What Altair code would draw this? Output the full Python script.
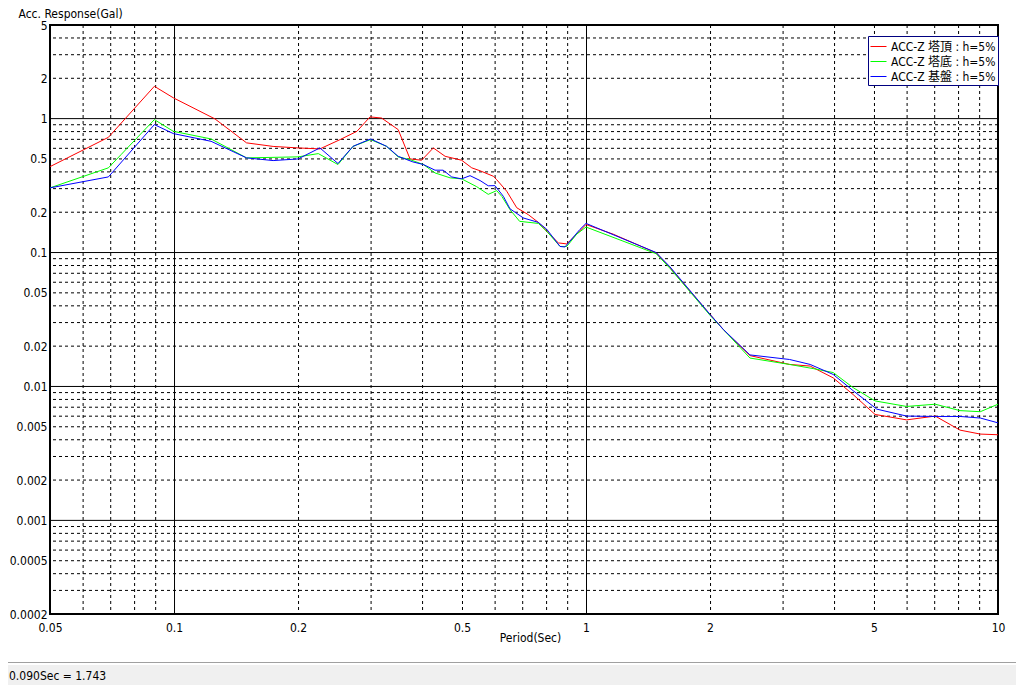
import altair as alt
import pandas as pd

FONT = "Liberation Sans Narrow, DejaVu Sans Condensed, Arial Narrow, Noto Sans CJK JP, sans-serif"

series_names = ["ACC-Z 塔頂 : h=5%", "ACC-Z 塔底 : h=5%", "ACC-Z 基盤 : h=5%"]
series_colors = ["#ff0000", "#00ff00", "#0000ff"]

red_T = [0.05, 0.0693, 0.0896, 0.0996, 0.1257, 0.150, 0.174, 0.2, 0.226, 0.253, 0.278, 0.299,
         0.319, 0.35, 0.374, 0.399, 0.426, 0.455, 0.499, 0.528, 0.553, 0.596, 0.607, 0.642, 0.679,
         0.724, 0.766, 0.803, 0.857, 0.898, 0.949, 1.0, 1.165, 1.48, 1.6, 2.0, 2.155, 2.5, 3.12,
         3.5, 3.98, 4.45, 5.03, 6.0, 7.04, 8.09, 9.06, 10.0]
red_V = [0.438, 0.725, 1.743, 1.43, 0.995, 0.659, 0.62, 0.604, 0.594, 0.697, 0.804, 1.03,
         1.01, 0.828, 0.5, 0.489, 0.604, 0.523, 0.489, 0.429, 0.408, 0.371, 0.35, 0.287, 0.216,
         0.192, 0.168, 0.144, 0.118, 0.116, 0.137, 0.162, 0.137, 0.0994, 0.077, 0.0345, 0.0266,
         0.0170, 0.0146, 0.0142, 0.0116, 0.0087, 0.00618, 0.00563, 0.00601, 0.00472, 0.00441,
         0.00436]

green_T = [0.05, 0.0693, 0.0744, 0.0896, 0.0996, 0.123, 0.150, 0.2, 0.224, 0.25, 0.272, 0.3,
           0.328, 0.35, 0.374, 0.403, 0.43, 0.468, 0.499, 0.543, 0.579, 0.607, 0.625, 0.654,
           0.69, 0.766, 0.803, 0.865, 0.898, 0.949, 1.0, 1.48, 1.6, 2.0, 2.155, 2.5, 3.12, 3.56,
           3.98, 4.45, 5.03, 6.0, 7.04, 8.09, 9.06, 10.0]
green_V = [0.304, 0.429, 0.539, 0.983, 0.804, 0.705, 0.509, 0.518, 0.548, 0.454, 0.621, 0.697,
           0.621, 0.518, 0.494, 0.454, 0.393, 0.361, 0.355, 0.31, 0.272, 0.29, 0.262, 0.209,
           0.171, 0.165, 0.144, 0.111, 0.111, 0.137, 0.155, 0.098, 0.076, 0.034, 0.0266, 0.0163,
           0.0146, 0.0136, 0.0127, 0.0098, 0.0078, 0.00709, 0.00737, 0.0066, 0.00648, 0.00737]

blue_T = [0.05, 0.0693, 0.0896, 0.0996, 0.123, 0.150, 0.174, 0.2, 0.226, 0.25, 0.272, 0.3,
          0.328, 0.35, 0.38, 0.403, 0.43, 0.45, 0.472, 0.499, 0.523, 0.553, 0.579, 0.601, 0.63,
          0.654, 0.705, 0.766, 0.803, 0.865, 0.889, 0.967, 1.0, 1.48, 1.6, 2.0, 2.155, 2.5, 3.12,
          3.5, 3.98, 4.45, 5.08, 6.0, 7.04, 8.09, 9.06, 10.0]
blue_V = [0.304, 0.367, 0.902, 0.773, 0.677, 0.509, 0.486, 0.5, 0.604, 0.462, 0.621, 0.705,
          0.621, 0.523, 0.475, 0.454, 0.412, 0.412, 0.367, 0.355, 0.375, 0.345, 0.315, 0.316,
          0.263, 0.212, 0.181, 0.168, 0.149, 0.111, 0.11, 0.149, 0.165, 0.1, 0.078, 0.0345,
          0.0266, 0.0172, 0.0159, 0.0146, 0.0123, 0.0093, 0.00677, 0.00601, 0.00597, 0.00597,
          0.00581, 0.00535]

x_ticks = [0.05, 0.1, 0.2, 0.5, 1, 2, 5, 10]
y_ticks = [0.0002, 0.0005, 0.001, 0.002, 0.005, 0.01, 0.02, 0.05, 0.1, 0.2, 0.5, 1, 2, 5]
x_grid_major = [0.1, 1]
x_grid_minor = [0.06, 0.07, 0.08, 0.09, 0.2, 0.3, 0.4, 0.5, 0.6, 0.7, 0.8, 0.9,
                2, 3, 4, 5, 6, 7, 8, 9]
y_grid_major = [0.001, 0.01, 0.1, 1]
y_grid_minor = [0.0003, 0.0004, 0.0005, 0.0006, 0.0007, 0.0008, 0.0009,
                0.002, 0.003, 0.004, 0.005, 0.006, 0.007, 0.008, 0.009,
                0.02, 0.03, 0.04, 0.05, 0.06, 0.07, 0.08, 0.09,
                0.2, 0.3, 0.4, 0.5, 0.6, 0.7, 0.8, 0.9,
                2, 3, 4]
status_text = "0.090Sec = 1.743"

rows = []
for name, Ts, Vs in zip(series_names, [red_T, green_T, blue_T], [red_V, green_V, blue_V]):
    for i, (t, v) in enumerate(zip(Ts, Vs)):
        rows.append({"series": name, "T": t, "V": v, "i": i})
df = pd.DataFrame(rows)

W, H = 948, 589
xs = alt.Scale(type="log", domain=[0.05, 10], nice=False)
ys = alt.Scale(type="log", domain=[0.0002, 5], nice=False)

x_axis = alt.Axis(
    values=x_ticks, format="~g", grid=False, ticks=False, domain=False,
    labelFont=FONT, labelFontSize=12, labelColor="black", labelPadding=8,
    labelFlush=False, labelOverlap=False,
    title="Period(Sec)", titleFont=FONT, titleFontSize=12, titleFontWeight="normal",
    titleColor="black", titleAnchor="start", titleAlign="center",
    titleBaseline="alphabetic", titleX=480, titleY=27)
y_axis = alt.Axis(
    values=y_ticks, format="~g", grid=False, ticks=False, domain=False,
    labelFont=FONT, labelFontSize=12, labelColor="black", labelPadding=3,
    labelFlush=False, labelOverlap=False,
    title="Acc. Response(Gal)", titleFont=FONT, titleFontSize=12,
    titleFontWeight="normal", titleColor="black", titleAngle=0, titleAlign="left",
    titleBaseline="alphabetic", titleX=-32, titleY=-8)

status_bg = alt.Chart(pd.DataFrame({"t": [status_text]})).mark_rect(
    color="#f0f0f0").encode(x=alt.value(-42), x2=alt.value(966),
                            y=alt.value(640), y2=alt.value(660))
status_line = alt.Chart(pd.DataFrame({"t": [status_text]})).mark_rule(
    color="#a0a0a0", strokeWidth=1).encode(x=alt.value(-42), x2=alt.value(966),
                                           y=alt.value(637.5))
status_lbl = alt.Chart(pd.DataFrame({"t": [status_text]})).mark_text(
    align="left", baseline="middle", font=FONT, fontSize=12, color="black").encode(
    x=alt.value(-41), y=alt.value(651), text="t:N")

gx_min = alt.Chart(pd.DataFrame({"T": x_grid_minor})).mark_rule(
    color="black", strokeWidth=1, strokeDash=[3, 3], xOffset=0.5).encode(
    x=alt.X("T:Q", scale=xs, axis=x_axis))
gy_min = alt.Chart(pd.DataFrame({"V": y_grid_minor})).mark_rule(
    color="black", strokeWidth=1, strokeDash=[3, 3]).encode(y=alt.Y("V:Q", scale=ys, axis=y_axis))
gx_maj = alt.Chart(pd.DataFrame({"T": x_grid_major})).mark_rule(
    color="black", strokeWidth=1, xOffset=0.5).encode(x=alt.X("T:Q", scale=xs, axis=x_axis))
gy_maj = alt.Chart(pd.DataFrame({"V": y_grid_major})).mark_rule(
    color="black", strokeWidth=1).encode(y=alt.Y("V:Q", scale=ys, axis=y_axis))

lines = alt.Chart(df).mark_line(strokeWidth=1, interpolate="linear").encode(
    x=alt.X("T:Q", scale=xs, axis=x_axis),
    y=alt.Y("V:Q", scale=ys, axis=y_axis),
    color=alt.Color("series:N", scale=alt.Scale(domain=series_names, range=series_colors),
                    legend=alt.Legend(
                        orient="none", legendX=818, legendY=11, title=None,
                        symbolType="stroke", symbolSize=256, symbolStrokeWidth=1,
                        labelFont=FONT, labelFontSize=12, labelColor="black", labelLimit=300,
                        labelOffset=4, strokeColor="#000080", fillColor="white",
                        padding=2, rowPadding=-4)),
    order="i:Q",
)

chart = alt.layer(status_bg, status_line, status_lbl, gx_min, gy_min, gx_maj, gy_maj, lines).properties(
    width=W, height=H,
    autosize=alt.AutoSizeParams(type="none"),
    padding={"left": 42, "top": 17, "right": 18, "bottom": 74},
    background="white",
).configure_view(stroke="black", strokeWidth=2)

chart.save("out.html", embed_options={"renderer": "svg", "actions": False})
